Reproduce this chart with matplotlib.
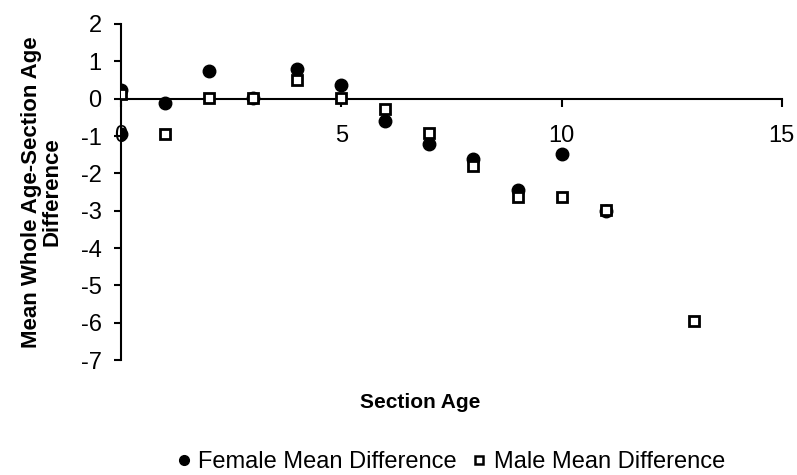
import matplotlib
matplotlib.use("Agg")
import matplotlib.pyplot as plt
from matplotlib.lines import Line2D

plt.rcParams['font.family'] = ['Liberation Sans', 'DejaVu Sans']
plt.rcParams['axes.unicode_minus'] = False

# section age (x) and mean difference (y)
female_age = [0, 0, 1, 2, 3, 4, 5, 6, 7, 8, 9, 10, 11]
female_diff = [0.22, -0.95, -0.12, 0.75, 0.03, 0.8, 0.37, -0.61, -1.21, -1.62, -2.45, -1.48, -3.0]
male_age = [0, 1, 2, 3, 4, 5, 6, 7, 8, 9, 10, 11, 13]
male_diff = [0.12, -0.95, 0.03, 0.03, 0.51, 0.02, -0.28, -0.93, -1.8, -2.63, -2.63, -2.98, -5.95]

x_ticks = [0, 5, 10, 15]
y_ticks = [2, 1, 0, -1, -2, -3, -4, -5, -6, -7]

fig = plt.figure(figsize=(7.97, 4.75), dpi=100)
ax = fig.add_axes([0.1518, 0.242, 0.8292, 0.7075])

ax.plot(female_age, female_diff, linestyle='none', marker='o', markersize=9,
        color='black', label='Female Mean Difference', zorder=3)
ax.plot(male_age, male_diff, linestyle='none', marker='s', markersize=7.5,
        markerfacecolor='white', markeredgecolor='black', markeredgewidth=2,
        label='Male Mean Difference', zorder=4)

ax.set_xlim(0, 15)
ax.set_ylim(-7, 2)
ax.set_xticks(x_ticks)
ax.set_yticks(y_ticks)
ax.spines['top'].set_visible(False)
ax.spines['right'].set_visible(False)
ax.spines['bottom'].set_position(('data', 0))
ax.spines['bottom'].set_linewidth(1.5)
ax.spines['left'].set_linewidth(1.5)
ax.tick_params(axis='x', direction='out', length=6, width=1.5, pad=13, labelsize=17)
ax.tick_params(axis='y', direction='out', length=5, width=1.5, pad=9, labelsize=17)
ax.set_ylabel('Mean Whole Age-Section Age\nDifference', fontsize=16,
              fontweight='bold', labelpad=13, linespacing=0.95)

fig.text(0.527, 0.152, 'Section Age', fontsize=15, fontweight='bold',
         ha='center', va='center')

handles = [
    Line2D([], [], linestyle='none', marker='o', markersize=7, color='black'),
    Line2D([], [], linestyle='none', marker='s', markersize=6,
           markerfacecolor='white', markeredgecolor='black', markeredgewidth=1.8),
]
fig.legend(handles, ['Female Mean Difference', 'Male Mean Difference'],
           loc='center', bbox_to_anchor=(0.565, 0.027), ncol=2, frameon=False,
           fontsize=17, handlelength=0.7, handletextpad=0.25, columnspacing=0.6,
           borderpad=0)

fig.savefig('out.png', dpi=100)
